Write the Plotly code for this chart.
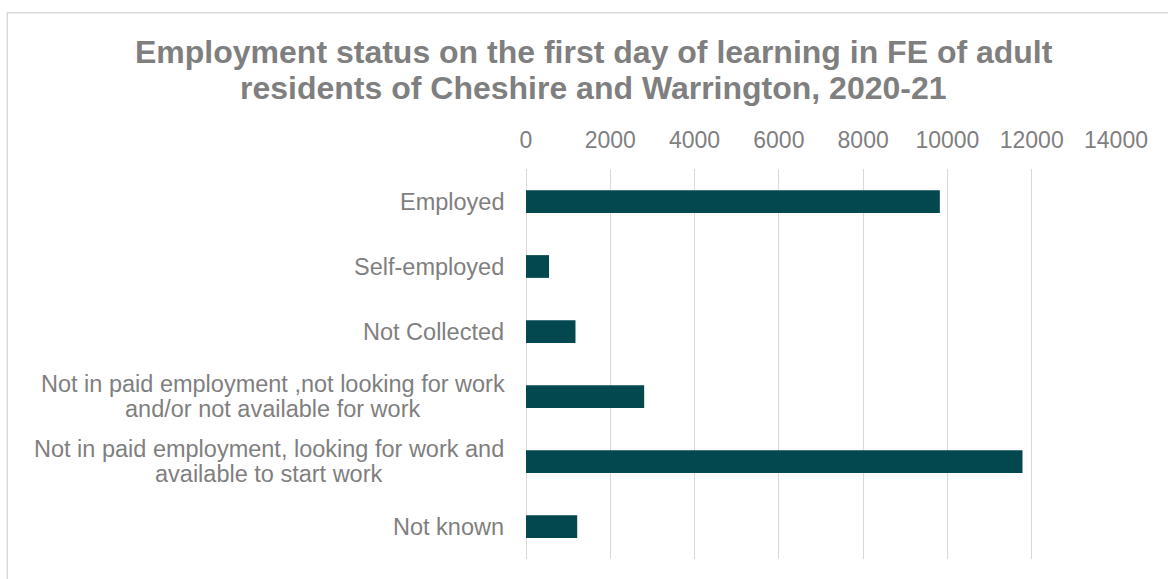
import plotly.graph_objects as go

categories = [
    "Employed",
    "Self-employed",
    "Not Collected",
    "Not in paid employment ,not looking for work and/or not available for work",
    "Not in paid employment, looking for work and available to start work",
    "Not known",
]
label_lines = [
    ["Employed"],
    ["Self-employed"],
    ["Not Collected"],
    ["Not in paid employment ,not looking for work", "and/or not available for work"],
    ["Not in paid employment, looking for work and", "available to start work"],
    ["Not known"],
]
values = [9820, 547, 1174, 2804, 11781, 1215]
x_ticks = [0, 2000, 4000, 6000, 8000, 10000, 12000, 14000]
title_lines = [
    "Employment status on the first day of learning in FE of adult",
    "residents of Cheshire and Warrington, 2020-21",
]

GRAY = "#7f7f7f"
FONT = "Liberation Sans, Arial, sans-serif"
LABEL_SIZE = 23.5

# Arial / Liberation Sans advance widths (per 1000 em) for layout of centred labels
_W = {' ': 278, ',': 278, '/': 278, '-': 333, 'C': 722, 'E': 667, 'N': 722, 'S': 667,
      'a': 556, 'b': 556, 'c': 500, 'd': 556, 'e': 556, 'f': 278, 'g': 556,
      'h': 556, 'i': 222, 'k': 500, 'l': 222, 'm': 833, 'n': 556, 'o': 556,
      'p': 556, 'r': 333, 's': 500, 't': 278, 'u': 556, 'v': 500, 'w': 722,
      'y': 500}


def text_width(s, size):
    return sum(_W.get(ch, 556) for ch in s) / 1000.0 * size


fig = go.Figure(
    go.Bar(
        x=values,
        y=categories,
        orientation="h",
        marker=dict(color="#03474f", line=dict(width=0)),
        width=0.35,
        hoverinfo="skip",
    )
)

annotations = []
line_h = 25
gap = 21.5
for cat, lines in zip(categories, label_lines):
    n = len(lines)
    wmax = max(text_width(ln, LABEL_SIZE) for ln in lines)
    for i, ln in enumerate(lines):
        offset = ((n - 1) / 2 - i) * line_h
        annotations.append(
            dict(
                x=0, xref="paper", y=cat, yref="y",
                xanchor="center", yanchor="middle", align="center",
                xshift=-gap - wmax / 2, yshift=offset,
                text=ln, showarrow=False,
                font=dict(family=FONT, size=LABEL_SIZE, color=GRAY),
            )
        )

# title lines
annotations.append(dict(x=0.1161, xref="paper", y=1.30, yref="paper",
                        xanchor="center", yanchor="middle", showarrow=False,
                        text="<b>%s</b>" % title_lines[0],
                        font=dict(family=FONT, size=32, color=GRAY)))
annotations.append(dict(x=0.1144, xref="paper", y=1.2077, yref="paper",
                        xanchor="center", yanchor="middle", showarrow=False,
                        text="<b>%s</b>" % title_lines[1],
                        font=dict(family=FONT, size=32, color=GRAY)))

fig.update_layout(
    width=1168,
    height=579,
    margin=dict(l=526, r=52, t=169, b=20),
    paper_bgcolor="white",
    plot_bgcolor="white",
    showlegend=False,
    annotations=annotations,
    xaxis=dict(
        side="top",
        range=[0, 14000],
        tickvals=x_ticks,
        ticktext=[str(v) for v in x_ticks],
        showgrid=True,
        gridcolor="#d9d9d9",
        gridwidth=1,
        zeroline=True,
        zerolinecolor="#d9d9d9",
        zerolinewidth=1,
        showline=False,
        ticks="",
        tickfont=dict(family=FONT, size=23, color=GRAY),
        ticklabelstandoff=15,
        fixedrange=True,
    ),
    yaxis=dict(
        categoryorder="array",
        categoryarray=categories,
        autorange="reversed",
        showticklabels=False,
        showgrid=False,
        zeroline=False,
        showline=False,
        ticks="",
        fixedrange=True,
    ),
    shapes=[
        dict(type="rect", xref="paper", yref="paper",
             x0=(7.3 - 526) / 590, x1=(1175 - 526) / 590,
             y0=(559 - 590) / 390, y1=(559 - 12.7) / 390,
             line=dict(color="#d9d9d9", width=1.5), fillcolor="rgba(0,0,0,0)",
             layer="below"),
    ],
)

fig.write_html("out.html", config={"displayModeBar": False},
               post_script="document.body.style.margin='0px';")
